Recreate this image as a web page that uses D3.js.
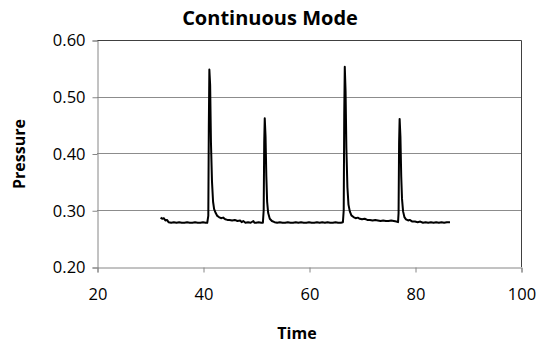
<!DOCTYPE html>
<html>
<head>
<meta charset="utf-8">
<script src="https://cdn.jsdelivr.net/npm/d3@7"></script>
<style>
  body { margin: 0; background: #fff; }
  text { font-family: "Open Sans", sans-serif; fill: #000; }
</style>
</head>
<body>
<svg id="chart" width="539" height="344"></svg>
<script>
// time axis values
var times = [
  32.0, 32.3, 32.6, 32.9, 33.2, 33.5, 34.0, 34.5, 35.0, 35.5, 36.0, 36.5, 37.0, 37.5, 38.0, 38.5, 39.0, 39.5, 40.0, 40.5, 40.8,
  41.0, 41.1, 41.2, 41.35, 41.5, 41.7, 41.9, 42.1, 42.4, 42.7, 43.0, 43.4, 43.8, 44.2, 44.6, 45.0, 45.5, 46.0, 46.5, 47.0, 47.3, 47.6, 48.0, 48.5, 49.0, 49.5, 49.7, 50.0, 50.5, 51.0, 51.3,
  51.45, 51.55, 51.65, 51.8, 51.95, 52.1, 52.3, 52.6, 53.0, 53.5, 54.0, 54.5, 55.0, 55.5, 56.0, 56.5, 57.0, 57.5, 58.0, 58.5, 59.0, 59.5, 60.0, 60.5, 61.0, 61.5, 62.0, 62.5, 63.0, 63.5, 64.0, 64.5, 65.0, 65.5, 66.0, 66.4,
  66.55, 66.65, 66.75, 66.9, 67.05, 67.25, 67.45, 67.7, 68.0, 68.4, 68.8, 69.2, 69.6, 70.0, 70.5, 71.0, 71.5, 72.0, 72.5, 73.0, 73.5, 74.0, 74.5, 75.0, 75.5, 76.0, 76.5, 76.8,
  76.9, 77.0, 77.1, 77.25, 77.4, 77.55, 77.75, 78.0, 78.3, 78.7, 79.0, 79.5, 80.0, 80.5, 81.0, 81.5, 82.0, 82.5, 83.0, 83.5, 84.0, 84.5, 85.0, 85.5, 86.0, 86.6
];
// pressure series
var pressure = [
  0.287, 0.285, 0.286, 0.282, 0.283, 0.279, 0.278, 0.279, 0.278, 0.279, 0.278, 0.278, 0.279, 0.278, 0.278, 0.279, 0.278, 0.278, 0.279, 0.278, 0.278,
  0.290, 0.450, 0.548, 0.520, 0.420, 0.350, 0.315, 0.302, 0.295, 0.290, 0.288, 0.286, 0.287, 0.284, 0.283, 0.283, 0.282, 0.283, 0.281, 0.282, 0.279, 0.281, 0.278, 0.279, 0.278, 0.281, 0.278, 0.278, 0.279, 0.278, 0.278,
  0.300, 0.420, 0.462, 0.430, 0.360, 0.315, 0.295, 0.285, 0.281, 0.279, 0.278, 0.279, 0.278, 0.278, 0.279, 0.278, 0.278, 0.279, 0.278, 0.279, 0.278, 0.278, 0.279, 0.278, 0.278, 0.279, 0.278, 0.279, 0.278, 0.279, 0.278, 0.278, 0.279, 0.278, 0.278, 0.279,
  0.300, 0.470, 0.553, 0.510, 0.410, 0.340, 0.310, 0.298, 0.291, 0.288, 0.286, 0.287, 0.285, 0.284, 0.285, 0.283, 0.283, 0.282, 0.283, 0.282, 0.281, 0.282, 0.281, 0.281, 0.282, 0.281, 0.280, 0.279,
  0.295, 0.420, 0.461, 0.430, 0.360, 0.320, 0.298, 0.288, 0.284, 0.282, 0.283, 0.280, 0.280, 0.279, 0.280, 0.278, 0.279, 0.278, 0.279, 0.278, 0.279, 0.278, 0.279, 0.278, 0.279, 0.279
];
var xTicks = [20, 40, 60, 80, 100];
var yTicks = [0.20, 0.30, 0.40, 0.50, 0.60];

var svg = d3.select("#chart");
var plotL = 97, plotR = 521, plotT = 40, plotB = 267;

var x = d3.scaleLinear().domain([20, 100]).range([plotL, plotR]);
var y = d3.scaleLinear().domain([0.20, 0.60]).range([plotB, plotT]);

// gridlines
svg.append("g")
  .selectAll("line")
  .data(yTicks.slice(1, 4))
  .enter().append("line")
  .attr("x1", plotL).attr("x2", plotR)
  .attr("y1", function (d) { return Math.round(y(d)) + 0.5; })
  .attr("y2", function (d) { return Math.round(y(d)) + 0.5; })
  .attr("stroke", "#8c8c8c").attr("stroke-width", 1);

// plot border top/right
svg.append("path")
  .attr("d", "M" + plotL + "," + (plotT + 0.5) + "H" + (plotR + 0.5) + "V" + plotB)
  .attr("fill", "none").attr("stroke", "#404040").attr("stroke-width", 1);

var yAxis = svg.append("g")
  .attr("transform", "translate(" + (plotL + 0.5) + ",0.5)")
  .call(d3.axisLeft(y).tickValues(yTicks).tickFormat(d3.format(".2f")).tickSize(5).tickPadding(7));

var xAxis = svg.append("g")
  .attr("transform", "translate(0.5," + (plotB + 0.5) + ")")
  .call(d3.axisBottom(x).tickValues(xTicks).tickSize(5).tickPadding(16));

[yAxis, xAxis].forEach(function (a) {
  a.select(".domain").attr("stroke", "#868686");
  a.selectAll(".tick line").attr("stroke", "#868686");
  a.selectAll(".tick text").style("font-family", "'Open Sans', sans-serif").style("font-size", "16.5px").attr("fill", "#000");
});

var line = d3.line()
  .x(function (d, i) { return x(times[i]); })
  .y(function (d) { return y(d); });

svg.append("path")
  .datum(pressure)
  .attr("d", line)
  .attr("fill", "none")
  .attr("stroke", "#000")
  .attr("stroke-width", 2)
  .attr("stroke-linejoin", "round");

svg.append("text")
  .attr("x", 270).attr("y", 25)
  .attr("text-anchor", "middle")
  .style("font-size", "20px").style("font-weight", "bold")
  .text("Continuous Mode");

svg.append("text")
  .attr("x", 297).attr("y", 339)
  .attr("text-anchor", "middle")
  .style("font-size", "16px").style("font-weight", "bold")
  .text("Time");

svg.append("text")
  .attr("transform", "translate(25,154) rotate(-90)")
  .attr("text-anchor", "middle")
  .style("font-size", "16px").style("font-weight", "bold")
  .text("Pressure");
</script>
</body>
</html>
